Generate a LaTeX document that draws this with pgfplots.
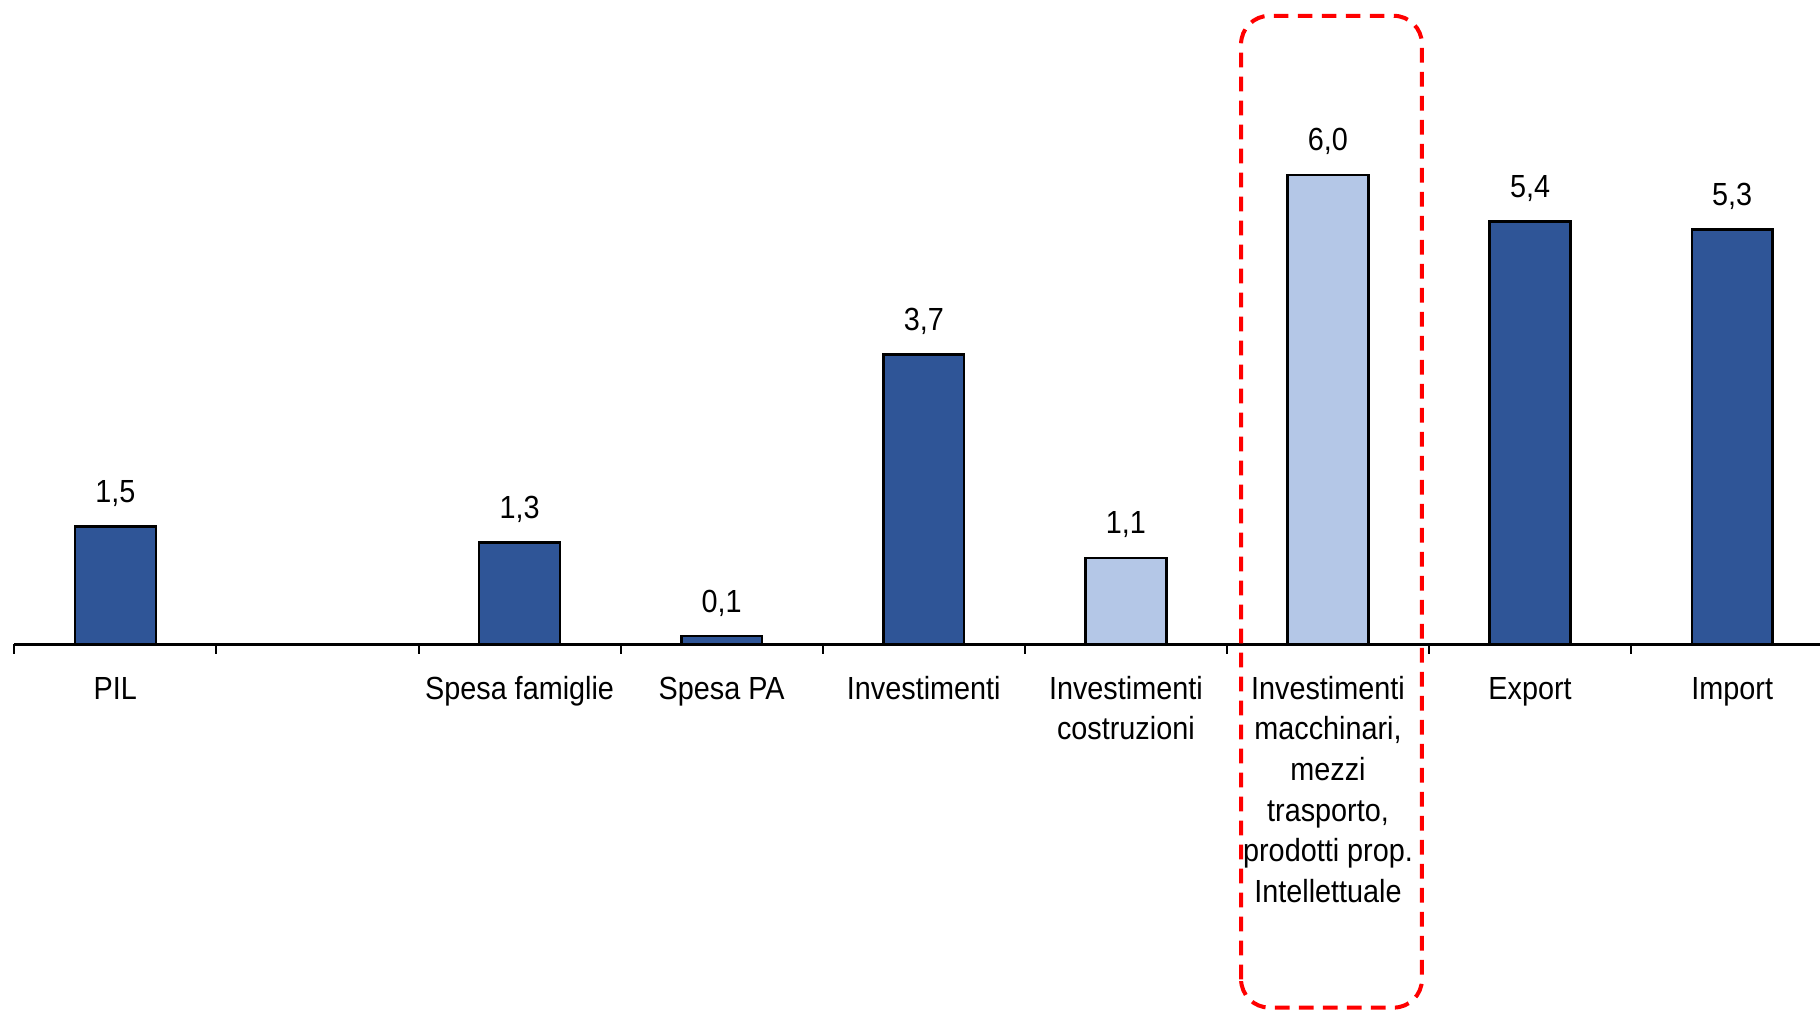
\documentclass[border=0pt]{standalone}
\usepackage{fontspec}
\setmainfont{Liberation Sans}[FakeStretch=0.9]
\usepackage{pgfplots}
\pgfplotsset{compat=1.18}

\definecolor{darkbar}{HTML}{2F5597}
\definecolor{lightbar}{HTML}{B4C7E7}
\tikzset{lab/.style={anchor=base, inner sep=0pt}}
\newcommand{\ml}[1]{\begin{tabular}[t]{@{}c@{}}#1\end{tabular}}

\begin{document}
\fontsize{9.6}{12.2}\selectfont
\begin{tikzpicture}
\begin{axis}[
    scale only axis,
    width=546pt, height=303pt,
    xmin=-0.5708, xmax=8.4346,
    ymin=-4.680, ymax=8.235,
    hide axis, clip=false,
    ybar, bar width=0.4, bar shift=0pt,
    nodes near coords={\pgfmathprintnumber[fixed, fixed zerofill, precision=1, use comma, assume math mode=true]{\pgfplotspointmeta}},
    every node near coord/.append style={anchor=base, yshift=7.2pt, black},
]
% valori scuri
\addplot[draw=black, line width=0.75pt, fill=darkbar] coordinates {
    (0,1.5) (2,1.3) (3,0.1) (4,3.7) (7,5.4) (8,5.3)
};
% valori chiari
\addplot[draw=black, line width=0.75pt, fill=lightbar] coordinates {
    (5,1.1) (6,6.0)
};

% asse x
\draw[line width=0.9pt] (axis cs:-0.5,0) -- (axis cs:8.4346,0);
\pgfplotsinvokeforeach{-0.5,0.5,...,7.5}{
    \draw[line width=0.6pt] (axis cs:#1,0) -- (axis cs:#1,-0.13);
}

% etichette categorie
\node[lab] at (axis cs:0,-0.703) {PIL};
\node[lab] at (axis cs:2,-0.703) {Spesa famiglie};
\node[lab] at (axis cs:3,-0.703) {Spesa PA};
\node[lab] at (axis cs:4,-0.703) {Investimenti};
\node[lab] at (axis cs:5,-0.703) {\ml{Investimenti\\costruzioni}};
\node[lab] at (axis cs:6,-0.703) {\ml{Investimenti\\macchinari,\\mezzi\\trasporto,\\prodotti prop.\\Intellettuale}};
\node[lab] at (axis cs:7,-0.703) {Export};
\node[lab] at (axis cs:8,-0.703) {Import};

% riquadro tratteggiato
\draw[red, line width=1.2pt, dash pattern=on 4.4pt off 2.8pt, rounded corners=8.5pt]
    (axis cs:5.570,-4.649) rectangle (axis cs:6.465,8.033);
\end{axis}
\pgfresetboundingbox
\path[use as bounding box] (current axis.south west) rectangle (current axis.north east);
\end{tikzpicture}
\end{document}
